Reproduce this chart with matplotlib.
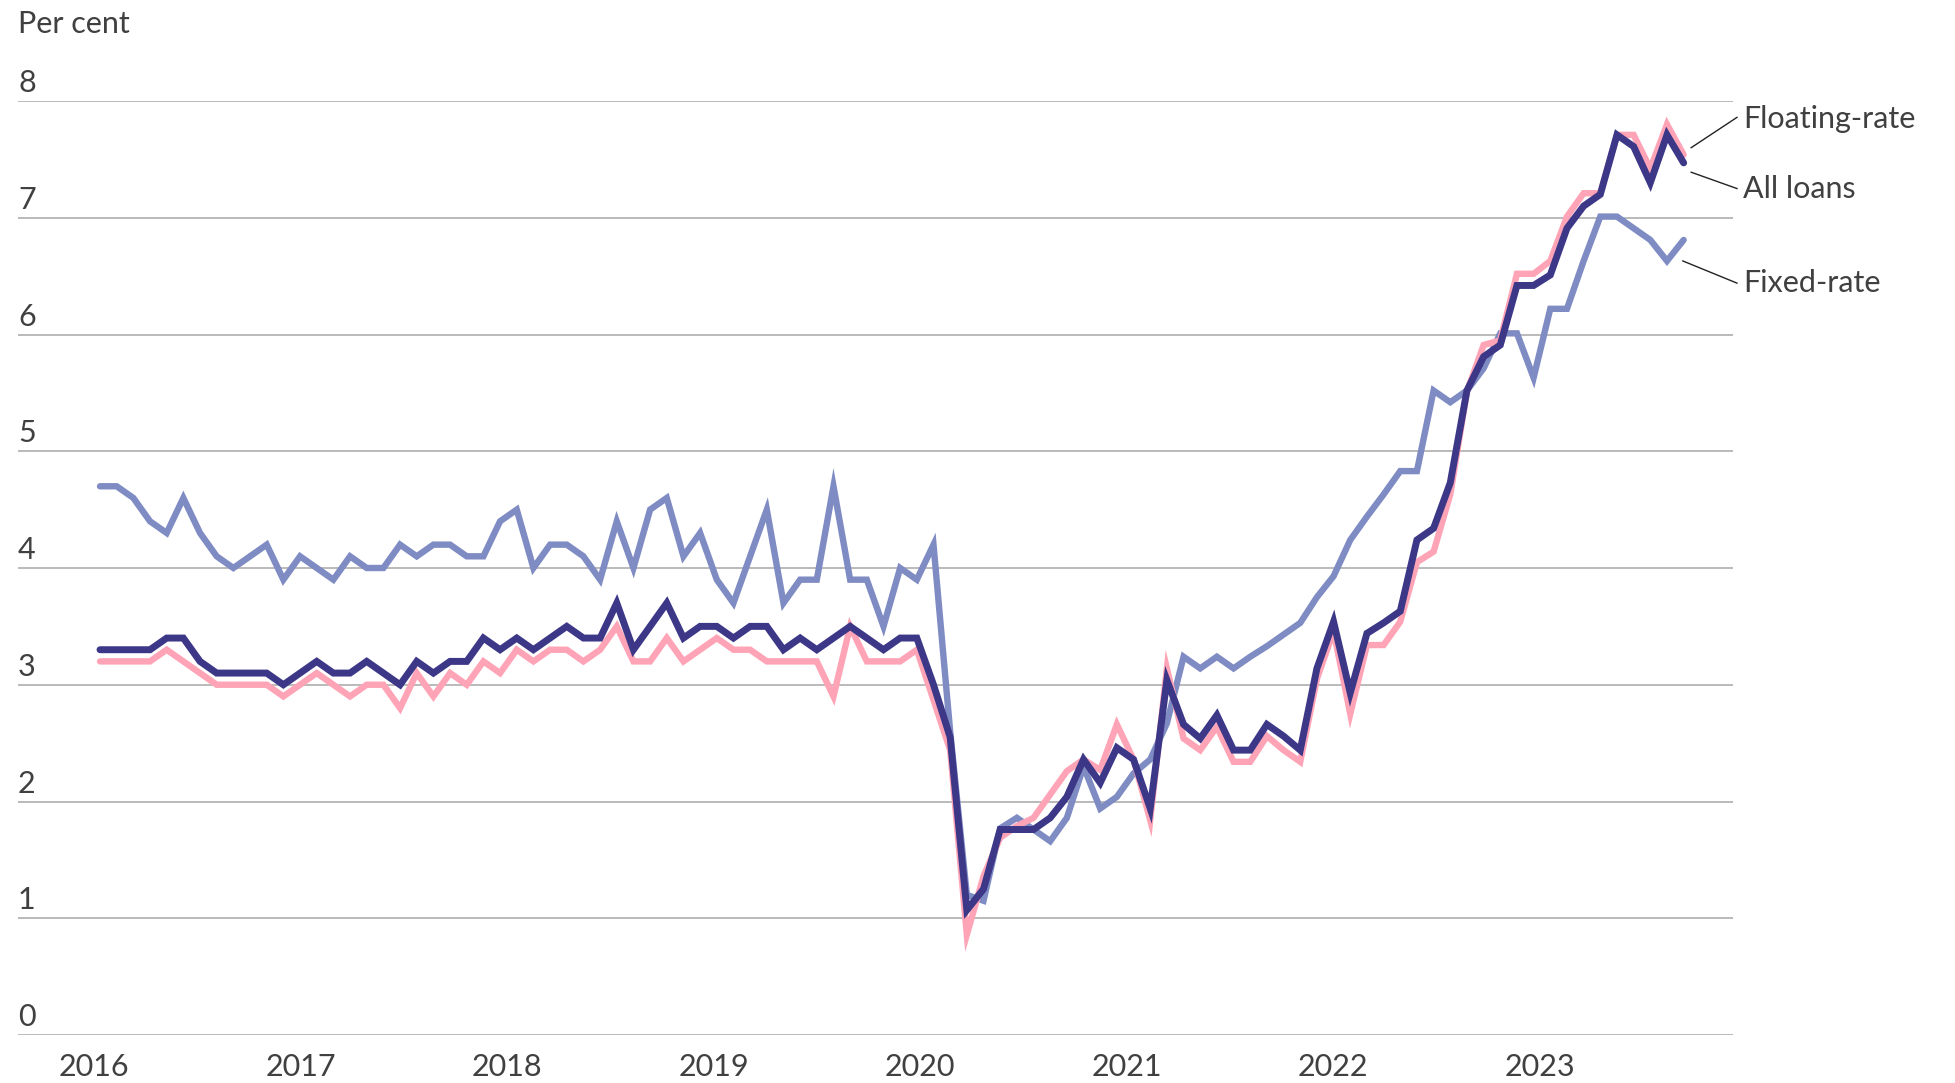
import matplotlib
matplotlib.use("Agg")
import matplotlib.pyplot as plt
import numpy as np

# ---- data (monthly observations, per cent) ----
fixed_rate = [4.7, 4.7, 4.6, 4.4, 4.3, 4.6, 4.3, 4.1, 4.0, 4.1, 4.2, 3.9,
              4.1, 4.0, 3.9, 4.1, 4.0, 4.0, 4.2, 4.1, 4.2, 4.2, 4.1, 4.1,
              4.4, 4.5, 4.0, 4.2, 4.2, 4.1, 3.9, 4.4, 4.0, 4.5, 4.6, 4.1,
              4.3, 3.9, 3.7, 4.1, 4.5, 3.7, 3.9, 3.9, 4.7, 3.9, 3.9, 3.5,
              4.0, 3.9, 4.2, 2.6, 1.2, 1.15, 1.77, 1.86, 1.76, 1.66, 1.86, 2.30,
              1.94, 2.04, 2.24, 2.36, 2.67, 3.24, 3.14, 3.24, 3.14, 3.24, 3.33, 3.43,
              3.53, 3.75, 3.93, 4.24, 4.44, 4.63, 4.83, 4.83, 5.52, 5.42, 5.52, 5.71,
              6.01, 6.01, 5.63, 6.22, 6.22, 6.63, 7.01, 7.01, 6.91, 6.81, 6.63, 6.81]

floating_rate = [3.2, 3.2, 3.2, 3.2, 3.3, 3.2, 3.1, 3.0, 3.0, 3.0, 3.0, 2.9,
                 3.0, 3.1, 3.0, 2.9, 3.0, 3.0, 2.8, 3.1, 2.9, 3.1, 3.0, 3.2,
                 3.1, 3.3, 3.2, 3.3, 3.3, 3.2, 3.3, 3.5, 3.2, 3.2, 3.4, 3.2,
                 3.3, 3.4, 3.3, 3.3, 3.2, 3.2, 3.2, 3.2, 2.9, 3.5, 3.2, 3.2,
                 3.2, 3.3, 2.87, 2.44, 0.86, 1.36, 1.69, 1.79, 1.86, 2.06, 2.26, 2.36,
                 2.27, 2.66, 2.36, 1.84, 3.14, 2.54, 2.44, 2.64, 2.34, 2.34, 2.56, 2.44,
                 2.34, 3.05, 3.46, 2.75, 3.34, 3.34, 3.54, 4.05, 4.14, 4.63, 5.51, 5.91,
                 5.95, 6.52, 6.52, 6.63, 7.01, 7.21, 7.21, 7.71, 7.71, 7.42, 7.80, 7.54]

all_loans = [3.3, 3.3, 3.3, 3.3, 3.4, 3.4, 3.2, 3.1, 3.1, 3.1, 3.1, 3.0,
             3.1, 3.2, 3.1, 3.1, 3.2, 3.1, 3.0, 3.2, 3.1, 3.2, 3.2, 3.4,
             3.3, 3.4, 3.3, 3.4, 3.5, 3.4, 3.4, 3.7, 3.3, 3.5, 3.7, 3.4,
             3.5, 3.5, 3.4, 3.5, 3.5, 3.3, 3.4, 3.3, 3.4, 3.5, 3.4, 3.3,
             3.4, 3.4, 3.0, 2.55, 1.07, 1.25, 1.76, 1.76, 1.76, 1.86, 2.04, 2.36,
             2.16, 2.46, 2.36, 1.94, 3.04, 2.66, 2.54, 2.74, 2.44, 2.44, 2.66, 2.56,
             2.44, 3.14, 3.54, 2.93, 3.44, 3.53, 3.63, 4.24, 4.34, 4.73, 5.52, 5.81,
             5.91, 6.42, 6.42, 6.51, 6.91, 7.10, 7.20, 7.71, 7.61, 7.30, 7.71, 7.47]

year_labels = ["2016", "2017", "2018", "2019", "2020", "2021", "2022", "2023"]
y_ticks = [0, 1, 2, 3, 4, 5, 6, 7, 8]

# ---- style ----
C_FIXED = "#7f8bc3"
C_FLOAT = "#ffa3b6"
C_ALL = "#3c3787"
C_TEXT = "#404040"
C_GRID = "#b4b4b4"
FONT = ["Lato", "DejaVu Sans"]
FS = 22
plt.rcParams["font.family"] = FONT

W, H = 1956, 1083
fig = plt.figure(figsize=(W / 100, H / 100), dpi=100)
left_px, right_px, top_px, bottom_px = 18, 1733, 101, 1035
ax = fig.add_axes([left_px / W, 1 - bottom_px / H,
                   (right_px - left_px) / W, (bottom_px - top_px) / H])

n = len(all_loans)
x = np.arange(n)
step_px = 16.67
x0_px = 100
ax.set_xlim((left_px - x0_px) / step_px, (right_px - x0_px) / step_px)
ax.set_ylim(0, 8)

for v in y_ticks:
    ax.axhline(v, color=C_GRID, lw=1.3, zorder=1)
    ax.text(0.0, v + 0.075, str(v), transform=ax.get_yaxis_transform(),
            ha="left", va="baseline", fontsize=FS, color=C_TEXT)

ax.plot(x, fixed_rate, color=C_FIXED, lw=4.6, solid_joinstyle="miter",
        solid_capstyle="round", zorder=3)
ax.plot(x, floating_rate, color=C_FLOAT, lw=4.6, solid_joinstyle="miter",
        solid_capstyle="round", zorder=4)
ax.plot(x, all_loans, color=C_ALL, lw=5.0, solid_joinstyle="miter",
        solid_capstyle="round", zorder=5)

# x tick labels (years)
year_step = 12.39
year_start = -0.36
xt = [year_start + year_step * k for k in range(len(year_labels))]
ax.set_xticks(xt)
ax.set_xticklabels(year_labels, fontsize=FS, color=C_TEXT)
ax.tick_params(axis="x", length=0, pad=13)
ax.set_yticks([])
for s in ax.spines.values():
    s.set_visible(False)

fig.text(18 / W, 1 - 33 / H, "Per cent", ha="left", va="baseline",
         fontsize=FS, color=C_TEXT)

# series labels with leader lines
last = n - 1
lab_x = 98.56
labels = [
    ("Floating-rate", 7.77, (last + 0.45, 7.60), (98.2, 7.86)),
    ("All loans", 7.17, (last + 0.45, 7.39), (98.2, 7.25)),
    ("Fixed-rate", 6.36, (last - 0.05, 6.63), (98.2, 6.44)),
]
for txt, yb, p0, p1 in labels:
    ax.plot([p0[0], p1[0]], [p0[1], p1[1]], color="#222222", lw=1.0,
            clip_on=False, zorder=6)
    ax.text(lab_x, yb, txt, ha="left", va="baseline", fontsize=FS,
            color=C_TEXT, clip_on=False)

fig.savefig("out.png", dpi=100, facecolor="white")
